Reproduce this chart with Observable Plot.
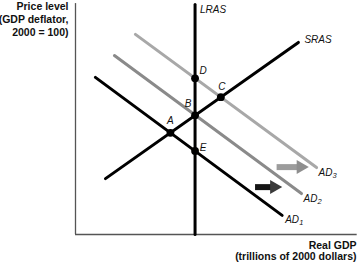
<!DOCTYPE html>
<html><head><meta charset="utf-8">
<script src="https://cdn.jsdelivr.net/npm/d3@7"></script>
<script src="https://cdn.jsdelivr.net/npm/@observablehq/plot@0.6"></script>
<style>body{margin:0;background:#fff}</style>
</head><body><div id="chart"></div>
<script>
// Curves (arbitrary units: real GDP on x, price level on y)
const lrasX = [42.7, 42.7], lrasY = [0, 100];
const srasX = [10.7, 79.6], srasY = [24.3, 83.5];
const ad1X = [7.1, 73.8], ad1Y = [68.3, 8.3];
const ad2X = [13.9, 80.7], ad2Y = [77.8, 17.8];
const ad3X = [21.4, 86.1], ad3Y = [87.0, 29.1];
// Equilibrium points
const pointNames = ["A", "B", "C", "D", "E"];
const pointX = [33.9, 42.7, 51.9, 42.7, 42.7];
const pointY = [44.2, 51.8, 59.7, 67.9, 36.3];
// Shift arrows
const arrowTail = [64.3, 72.0];
const arrowTip = [73.8, 83.3];
const arrowY = [20.6, 29.3];
const arrowShaftColors = ["#151515", "#9c9c9c"];
const arrowHeadColors = ["#3a3a3a", "#8e8e8e"];
// Text
const yTitle = "Price level\n(GDP deflator,\n2000 = 100)";
const xTitle = "Real GDP\n(trillions of 2000 dollars)";

const font = "'Liberation Sans', Arial, Helvetica, sans-serif";
const seg = (xs, ys) => xs.map((x, i) => ({x, y: ys[i]}));
const lras = seg(lrasX, lrasY), sras = seg(srasX, srasY);
const ad1 = seg(ad1X, ad1Y), ad2 = seg(ad2X, ad2Y), ad3 = seg(ad3X, ad3Y);
const points = pointNames.map((n, i) => ({name: n, x: pointX[i], y: pointY[i]}));
const arrows = arrowTail.map((t, i) => ({tail: t, tip: arrowTip[i], y: arrowY[i], shaft: arrowShaftColors[i], head: arrowHeadColors[i]}));
const pt = n => [points[pointNames.indexOf(n)]];
const last = a => [a[a.length - 1]];

const lab = {fontSize: 10, fontStyle: "italic", fill: "#111", textAnchor: "start"};
const curveLabel = (data, text, dx, dy, sub) => {
  const m = [Plot.text(data, {x: "x", y: "y", text: () => text, dx, dy, ...lab})];
  if (sub) m.push(Plot.text(data, {x: "x", y: "y", text: () => sub, dx: dx + 14, dy: dy + 3.5, ...lab, fontSize: 7.5}));
  return m;
};
const pointLabel = (n, dx, dy) => Plot.text(pt(n), {x: "x", y: "y", text: "name", dx, dy, ...lab, textAnchor: "middle"});

const chart = Plot.plot({
  width: 358, height: 264,
  marginLeft: 75, marginRight: 3, marginTop: 4, marginBottom: 30,
  x: {domain: [0, 100], axis: null},
  y: {domain: [0, 100], axis: null},
  style: {fontFamily: font, background: "#fff", overflow: "visible"},
  marks: [
    Plot.ruleX([0], {y1: 0, y2: 100.4, stroke: "#555", strokeWidth: 1.3}),
    Plot.ruleY([0], {x1: 0, x2: 100.6, stroke: "#555", strokeWidth: 1.3}),
    Plot.line(ad3, {x: "x", y: "y", stroke: "#a8a8a8", strokeWidth: 3}),
    Plot.line(ad2, {x: "x", y: "y", stroke: "#8a8a8a", strokeWidth: 3}),
    Plot.line(ad1, {x: "x", y: "y", stroke: "#000", strokeWidth: 3}),
    Plot.line(sras, {x: "x", y: "y", stroke: "#000", strokeWidth: 3}),
    Plot.line(lras, {x: "x", y: "y", stroke: "#000", strokeWidth: 3}),
    Plot.ruleY(arrows, {y: "y", x1: "tail", x2: "tip", insetRight: 10, stroke: "shaft", strokeWidth: 6}),
    Plot.dot(arrows, {x: "tip", y: "y", symbol: "triangle", rotate: 90, r: 5.2, dx: -8, fill: "head", stroke: "none"}),
    Plot.dot(points, {x: "x", y: "y", r: 3.9, fill: "#000", stroke: "none"}),
    pointLabel("A", 0, -12),
    pointLabel("B", -7, -12),
    pointLabel("C", 1, -10),
    pointLabel("D", 8, -8),
    pointLabel("E", 8, -3),
    curveLabel(last(lras), "LRAS", 5, 5),
    curveLabel(last(sras), "SRAS", 6, -3),
    curveLabel(last(ad1), "AD", 3, 4, "1"),
    curveLabel(last(ad2), "AD", 2, 5, "2"),
    curveLabel(last(ad3), "AD", 2, 5, "3"),
    Plot.text([yTitle], {frameAnchor: "top-left", text: d => d, dx: -7, dy: -3, textAnchor: "end", lineAnchor: "top", lineHeight: 1.2, fontSize: 10.5, fontWeight: "bold", fill: "#111"}),
    Plot.text([xTitle], {frameAnchor: "bottom-right", text: d => d, dx: 1, dy: 7, textAnchor: "end", lineAnchor: "top", lineHeight: 1.05, fontSize: 10.5, fontWeight: "bold", fill: "#111"})
  ]
});
document.getElementById("chart").appendChild(chart);
</script>
</body></html>
